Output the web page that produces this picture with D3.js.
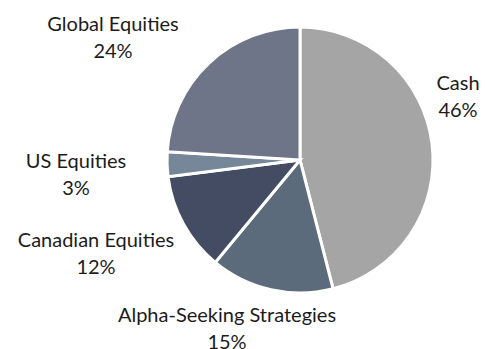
<!DOCTYPE html>
<html>
<head>
<meta charset="utf-8">
<script src="https://cdn.jsdelivr.net/npm/d3@7"></script>
<style>
  html, body { margin: 0; padding: 0; background: #fff; overflow: hidden; }
  svg { display: block; }
  svg text { font-family: Lato, "Open Sans", sans-serif; fill: #1c1c1c; }
</style>
</head>
<body>
<svg id="chart" width="485" height="349"></svg>
<script>
// Portfolio allocation, clockwise from 12 o'clock
const categories = ["Cash", "Alpha-Seeking Strategies", "Canadian Equities", "US Equities", "Global Equities"];
const values = [46, 15, 12, 3, 24];
const colors = ["#a5a5a5", "#5b6b7c", "#434c63", "#76879a", "#6f7588"];

// Label anchor points: centre x and first-line baseline
const labelX = [458, 227, 96, 76, 113];
const labelY = [90, 322, 247, 168, 31];

const svg = d3.select("#chart");
const cx = 300, cy = 160, radius = 133;

const pie = d3.pie().sort(null).value(d => d.value);
const arc = d3.arc().innerRadius(0).outerRadius(radius);

const data = categories.map((c, i) => ({ name: c, value: values[i], color: colors[i], lx: labelX[i], ly: labelY[i] }));

const g = svg.append("g").attr("transform", `translate(${cx},${cy})`);
g.selectAll("path")
  .data(pie(data))
  .join("path")
  .attr("d", arc)
  .attr("fill", d => d.data.color)
  .attr("stroke", "#fff")
  .attr("stroke-width", 3)
  .attr("stroke-linejoin", "miter");

const fmt = d3.format(".0%");
const total = d3.sum(values);

const labels = svg.append("g").selectAll("text")
  .data(data)
  .join("text")
  .attr("text-anchor", "middle")
  .attr("font-size", 20)
  .attr("x", d => d.lx)
  .attr("y", d => d.ly);

labels.append("tspan")
  .attr("x", d => d.lx)
  .text(d => d.name);
labels.append("tspan")
  .attr("x", d => d.lx)
  .attr("dy", 27)
  .text(d => fmt(d.value / total));
</script>
</body>
</html>
